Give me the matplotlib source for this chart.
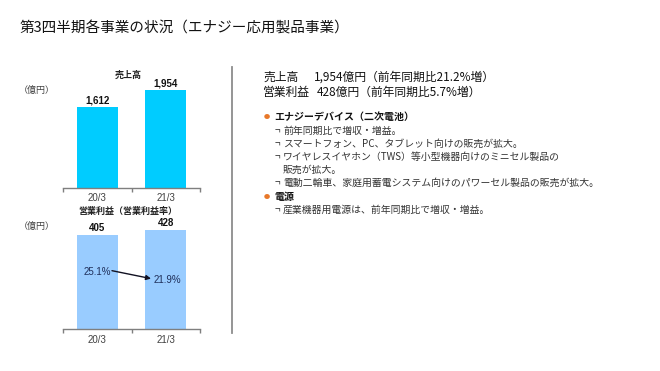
import matplotlib
matplotlib.use("Agg")
import matplotlib.pyplot as plt
from matplotlib.lines import Line2D

plt.rcParams['font.family'] = ['Noto Sans CJK JP', 'DejaVu Sans']

# ---- data ----
periods = ["20/3", "21/3"]
sales = [1612, 1954]            # 売上高（億円）
op_profit = [405, 428]          # 営業利益（億円）
op_margin = [25.1, 21.9]        # 営業利益率（%）

title = "第3四半期各事業の状況（エナジー応用製品事業）"
sales_title = "売上高"
profit_title = "営業利益（営業利益率）"
unit_label = "（億円）"
summary_labels = ["売上高", "営業利益"]
summary_values = ["1,954億円（前年同期比21.2%増）", "428億円（前年同期比5.7%増）"]
bullets = [
    ("head", "エナジーデバイス（二次電池）"),
    ("item", "前年同期比で増収・増益。"),
    ("item", "スマートフォン、PC、タブレット向けの販売が拡大。"),
    ("item", "ワイヤレスイヤホン（TWS）等小型機器向けのミニセル製品の"),
    ("cont", "販売が拡大。"),
    ("item", "電動二輪車、家庭用蓄電システム向けのパワーセル製品の販売が拡大。"),
    ("head", "電源"),
    ("item", "産業機器用電源は、前年同期比で増収・増益。"),
]

W, H = 660, 371
fig = plt.figure(figsize=(W / 100, H / 100), dpi=100)
fig.patch.set_facecolor("white")


def fx(px):
    return px / W


def fy(py):
    return 1 - py / H


TEXT = "#222222"
GRAY = "#404040"
LATIN = ['Liberation Sans', 'DejaVu Sans']

fig.text(fx(20), fy(28), title, fontsize=10.5, color="#111111", va="center", ha="left")


def make_bar_axes(top_px, base_px, ymax, values, color, fmt):
    ax = fig.add_axes([fx(63), fy(base_px), fx(200) - fx(63), (base_px - top_px) / H])
    x = list(range(len(values)))
    ax.bar(x, values, width=0.6, color=color, zorder=2)
    ax.set_xlim(-0.5, len(values) - 0.5)
    ax.set_ylim(0, ymax)
    for s in ["top", "right", "left"]:
        ax.spines[s].set_visible(False)
    ax.spines["bottom"].set_color("#7f7f7f")
    ax.spines["bottom"].set_linewidth(1.0)
    ax.set_yticks([])
    ax.set_xticks(x)
    ax.set_xticklabels(periods, fontsize=7, color=GRAY, family=LATIN)
    ax.tick_params(axis="x", which="major", length=0, pad=4)
    ax.set_xticks([-0.5, 0.5, 1.5], minor=True)
    ax.tick_params(axis="x", which="minor", length=3, color="#7f7f7f", width=1.0)
    ax.patch.set_alpha(0)
    for xi, v in zip(x, values):
        ax.annotate(fmt(v), (xi, v), xytext=(0, 1.5), textcoords="offset points",
                    ha="center", va="bottom", fontsize=7, fontweight="bold",
                    color="#111111", family=LATIN)
    return ax


ax1 = make_bar_axes(78, 187.7, 2200, sales, "#00CCFF", lambda v: f"{v:,}")
ax2 = make_bar_axes(213, 329.3, 500, op_profit, "#99CCFF", lambda v: f"{v:,}")

fig.text(fx(128), fy(75), sales_title, fontsize=6.5, fontweight="bold", color=TEXT, ha="center", va="center")
fig.text(fx(128), fy(211.5), profit_title, fontsize=6.5, fontweight="bold", color=TEXT, ha="center", va="center")
fig.text(fx(37), fy(90), unit_label, fontsize=6.5, color=GRAY, ha="center", va="center")
fig.text(fx(37), fy(226), unit_label, fontsize=6.5, color=GRAY, ha="center", va="center")

# margin labels inside profit bars
m_pos = [(0.0, 0.495), (1.03, 0.425)]
for (xp, yp), m in zip(m_pos, op_margin):
    ax2.text(xp, yp * 500, f"{m}%", ha="center", va="center", fontsize=7,
             color="#1f2f5a", family=LATIN, zorder=3)
ax2.annotate("", xy=(0.785, 218), xytext=(0.215, 252),
             arrowprops=dict(arrowstyle="-|>", color="#111122", lw=1.0,
                             mutation_scale=7, shrinkA=0, shrinkB=0), zorder=3)

# separator
fig.add_artist(Line2D([fx(232), fx(232)], [fy(67), fy(333)], color="#8c8c8c", lw=1.3))

# summary lines
sum_y = [77, 92]
val_x = [314, 317]
for lab, val, yy, vx in zip(summary_labels, summary_values, sum_y, val_x):
    fig.text(fx(263), fy(yy), lab, fontsize=8.5, color="#111111", va="center", ha="left")
    fig.text(fx(vx), fy(yy), val, fontsize=8.5, color="#111111", va="center", ha="left")

# bullets
ys = [117, 131, 144, 157, 170, 183, 197, 210]
for (kind, txt), yy in zip(bullets, ys):
    if kind == "head":
        fig.text(fx(267), fy(yy), "●", fontsize=4.5, color="#E8782A", va="center", ha="center")
        fig.text(fx(274), fy(yy), txt, fontsize=7.2, fontweight="bold", color="#111111",
                 va="center", ha="left")
    elif kind == "item":
        fig.text(fx(275), fy(yy), "¬", fontsize=7, color="#333333", va="center", ha="left")
        fig.text(fx(283), fy(yy), txt, fontsize=7.1, color="#333333", va="center", ha="left")
    else:
        fig.text(fx(283), fy(yy), txt, fontsize=7.1, color="#333333", va="center", ha="left")

fig.savefig("out.png", dpi=100)
